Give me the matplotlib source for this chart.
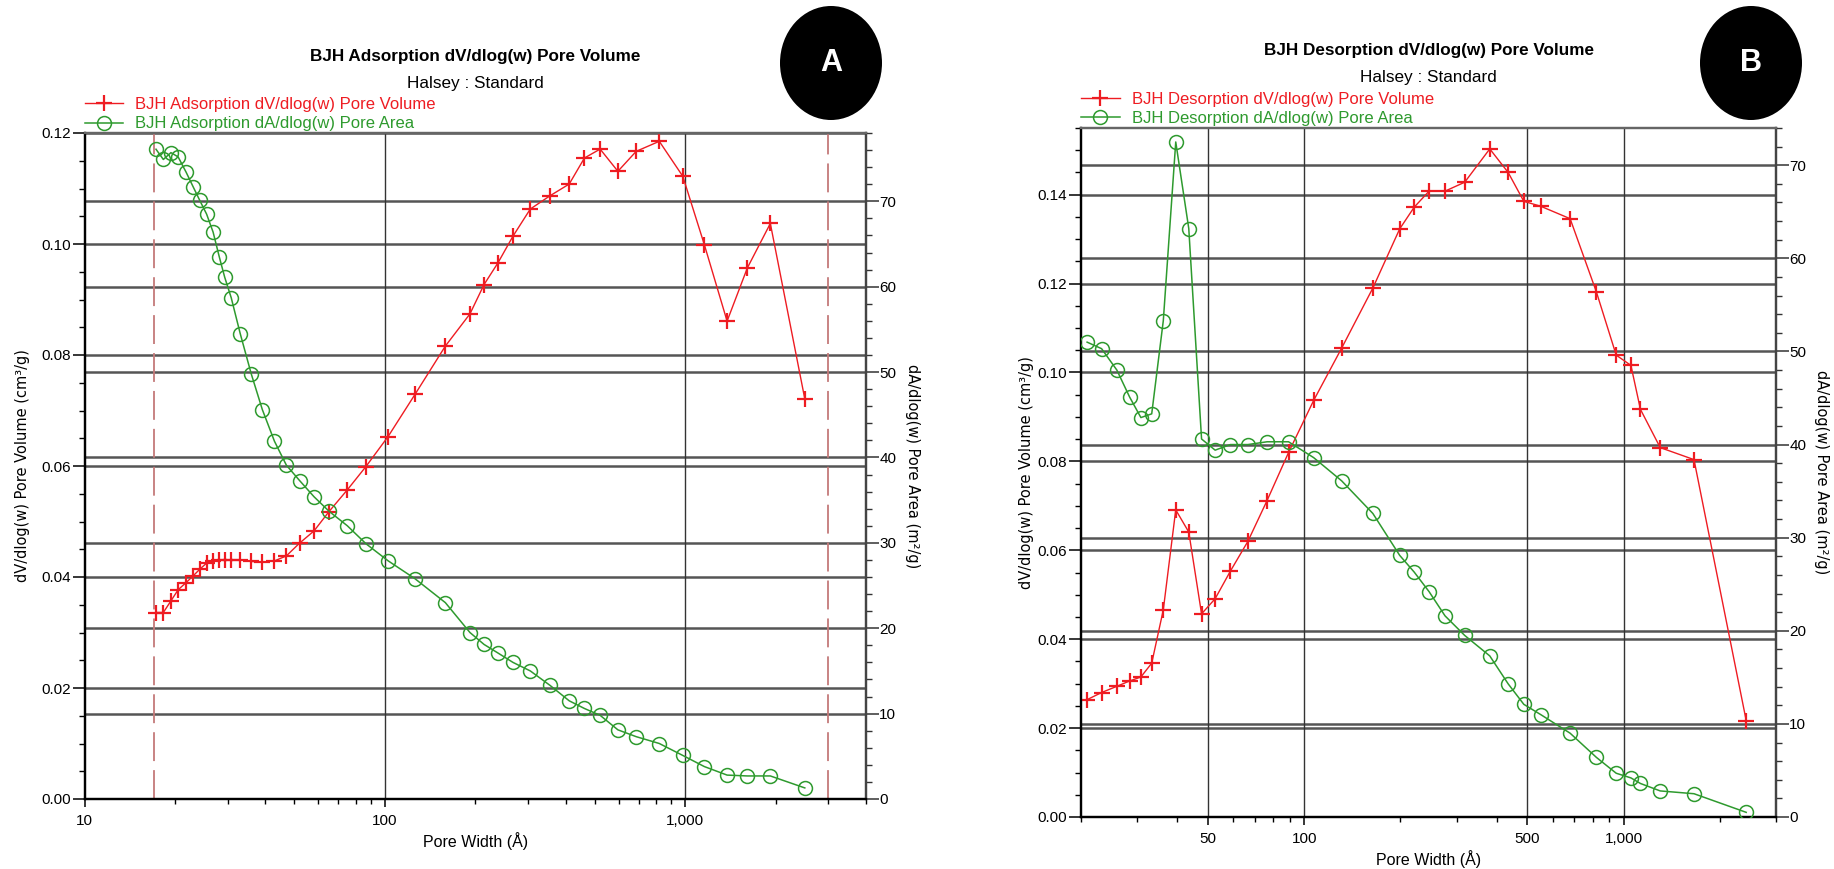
import matplotlib
matplotlib.use("Agg")
import matplotlib.pyplot as plt
from matplotlib.patches import Ellipse
from matplotlib.ticker import FixedLocator, LogLocator, FuncFormatter, MultipleLocator, NullFormatter
import numpy as np

# Panel A - adsorption
ads_width = [17.3, 18.3, 19.4, 20.5, 21.8, 23.0, 24.2, 25.5, 26.8, 28.1, 29.3, 30.8, 33.0,
             35.9, 39.1, 42.9, 47.0, 52.0, 58.1, 65.2, 75.0, 86.5, 102.5, 126, 159, 192,
             214, 238, 267, 305, 355, 411, 462, 521, 597, 687, 820, 982, 1158, 1379,
             1611, 1921, 2502]
ads_volume = [0.0336, 0.0336, 0.0357, 0.0377, 0.0390, 0.0402, 0.0414, 0.0425, 0.0429,
              0.0431, 0.0431, 0.0431, 0.0431, 0.0428, 0.0427, 0.0429, 0.0438, 0.0461,
              0.0483, 0.0518, 0.0557, 0.0599, 0.0653, 0.0729, 0.0816, 0.0874, 0.0927,
              0.0966, 0.1014, 0.1063, 0.1087, 0.1108, 0.1155, 0.1171, 0.1131, 0.1167,
              0.1185, 0.1122, 0.0999, 0.0861, 0.0957, 0.1037, 0.0721]
ads_area = [76.1, 74.9, 75.7, 75.2, 73.4, 71.7, 70.1, 68.5, 66.4, 63.5, 61.1, 58.7, 54.5,
            49.8, 45.6, 41.9, 39.1, 37.3, 35.4, 33.7, 32.0, 29.9, 27.9, 25.8, 23.0, 19.5,
            18.1, 17.1, 16.0, 15.0, 13.3, 11.5, 10.6, 9.8, 8.1, 7.3, 6.5, 5.1, 3.8, 2.8,
            2.7, 2.7, 1.3]

# Panel B - desorption
des_width = [20.9, 23.2, 25.9, 28.4, 30.8, 33.3, 36.2, 39.6, 43.5, 47.7, 52.6, 58.7, 66.6,
             76.5, 89.3, 107, 131, 164, 199, 221, 246, 276, 318, 381, 435, 487, 550, 680,
             822, 948, 1054, 1129, 1302, 1661, 2420]
des_volume = [0.0264, 0.0280, 0.0294, 0.0306, 0.0315, 0.0346, 0.0466, 0.0691, 0.0641,
              0.0457, 0.0491, 0.0553, 0.0620, 0.0712, 0.0820, 0.0937, 0.1055, 0.1190,
              0.1323, 0.1372, 0.1408, 0.1408, 0.1428, 0.1503, 0.1450, 0.1385, 0.1374,
              0.1346, 0.1181, 0.1039, 0.1016, 0.0917, 0.0831, 0.0804, 0.0217]
des_area = [51.0, 50.3, 48.0, 45.1, 42.9, 43.3, 53.3, 72.5, 63.2, 40.6, 39.4, 40.0, 40.0,
            40.3, 40.3, 38.6, 36.1, 32.6, 28.1, 26.3, 24.2, 21.6, 19.5, 17.3, 14.3, 12.1,
            11.0, 9.0, 6.4, 4.7, 4.2, 3.6, 2.8, 2.5, 0.5]

ads_xticks = [10, 100, 1000]
des_xticks = [50, 100, 500, 1000]

RED = "#ee1c22"
GREEN = "#2e9a2e"
GRID = "#555555"

W, H = 1834, 869


def px_axes(left, right, top, bottom):
    return [left / W, (H - bottom) / H, (right - left) / W, (bottom - top) / H]


def draw_panel(fig, rect, x, vol, area, xlim, ylim_l, ylim_r, xticks, vgrid,
               title, labels, ylab_x, dashed=None):
    ax = fig.add_axes(rect)
    ax2 = ax.twinx()
    ax.set_xscale("log")
    ax.set_xlim(*xlim)
    ax.set_ylim(0, ylim_l)
    ax2.set_ylim(0, ylim_r)

    # horizontal grid lines from both scales, drawn on the left axis
    for v in np.arange(0.02, ylim_l + 1e-9, 0.02):
        ax.axhline(v, color=GRID, lw=1.8, zorder=0)
    for v in np.arange(10, ylim_r, 10):
        ax.axhline(v * ylim_l / ylim_r, color=GRID, lw=1.8, zorder=0)
    for v in vgrid:
        ax.axvline(v, color="#333333", lw=1.0, zorder=0)
    if dashed:
        for v in dashed:
            ax.axvline(v, color="#c47a7a", lw=1.3, dashes=(16, 5), zorder=1)

    l1, = ax.plot(x, vol, color=RED, lw=1.0, marker="+", ms=11, mew=1.6,
                  label=labels[0], zorder=3)
    l2, = ax2.plot(x, area, color=GREEN, lw=1.1, marker="o", ms=10, mfc="none",
                   mew=1.1, label=labels[1], zorder=3)

    ax.xaxis.set_major_locator(FixedLocator(xticks))
    ax.xaxis.set_major_formatter(FuncFormatter(lambda v, p: "{:,}".format(int(round(v)))))
    ax.xaxis.set_minor_locator(LogLocator(base=10, subs=np.arange(2, 10)))
    ax.xaxis.set_minor_formatter(NullFormatter())

    ax.yaxis.set_major_locator(MultipleLocator(0.02))
    ax.yaxis.set_minor_locator(MultipleLocator(0.005))
    ax.yaxis.set_major_formatter(FuncFormatter(lambda v, p: "%.2f" % v))
    ax2.yaxis.set_major_locator(MultipleLocator(10))
    ax2.yaxis.set_minor_locator(MultipleLocator(2))

    for lab in ax.get_xticklabels() + ax.get_yticklabels() + ax2.get_yticklabels():
        lab.set_fontfamily("Liberation Sans")
    ax.tick_params(axis="y", which="major", length=9, width=1.1, pad=0.8, labelsize=11)
    ax.tick_params(axis="y", which="minor", length=4, width=1.0)
    ax.tick_params(axis="x", which="major", length=5.5, width=1.1, pad=5, labelsize=11)
    ax.tick_params(axis="x", which="minor", length=3.6, width=1.0)
    ax2.tick_params(axis="y", which="major", length=9, width=1.1, pad=0.6, labelsize=11,
                    color="#333333")
    ax2.tick_params(axis="y", which="minor", length=4, width=1.0, color="#333333")

    for a in (ax, ax2):
        a.spines["left"].set_color("black")
        a.spines["left"].set_linewidth(1.6)
        a.spines["bottom"].set_color("black")
        a.spines["bottom"].set_linewidth(1.6)
        a.spines["right"].set_color("#444444")
        a.spines["right"].set_linewidth(1.6)
        a.spines["top"].set_color("#666666")
        a.spines["top"].set_linewidth(1.6)

    ax.set_xlabel("Pore Width (Å)", fontfamily="Liberation Sans", fontsize=11.5, labelpad=3)
    ax.text(ylab_x, 0.5, "dV/dlog(w) Pore Volume (cm³/g)", transform=ax.transAxes,
            rotation=90, ha="center", va="center", fontfamily="DejaVu Sans", fontsize=10.5)
    ax.text(1 + 46 / (rect[2] * W), 0.5, "dA/dlog(w) Pore Area (m²/g)", transform=ax.transAxes,
            rotation=270, ha="center", va="center", fontfamily="DejaVu Sans", fontsize=10.5)

    top_px = H - (rect[1] + rect[3]) * H
    cx = rect[0] + rect[2] / 2
    fig.text(cx, 1 - (top_px - 77) / H, title, ha="center", va="center",
             fontfamily="Liberation Sans", fontweight="bold", fontsize=12.3)
    fig.text(cx, 1 - (top_px - 50) / H, "Halsey : Standard", ha="center", va="center",
             fontfamily="Liberation Sans", fontsize=12.3)

    ax.legend(handles=[l1, l2], loc="lower left", bbox_to_anchor=(-0.002, 1.0),
              frameon=False, borderaxespad=0.1, borderpad=0, handlelength=2.3,
              handletextpad=0.75, labelspacing=0.25, numpoints=1,
              prop=dict(family="Liberation Sans", size=12), labelcolor="linecolor")
    return ax, ax2


fig = plt.figure(figsize=(W / 100, H / 100), dpi=100)

draw_panel(fig, px_axes(84.5, 866, 133, 799), ads_width, ads_volume, ads_area,
           (10, 4000), 0.12, 78, ads_xticks, [100, 1000],
           "BJH Adsorption dV/dlog(w) Pore Volume",
           ["BJH Adsorption dV/dlog(w) Pore Volume", "BJH Adsorption dA/dlog(w) Pore Area"],
           ylab_x=-(84.5 - 23) / 781.5, dashed=[17, 3000])

draw_panel(fig, px_axes(1081, 1776, 128, 817), des_width, des_volume, des_area,
           (20, 3000), 0.155, 74, des_xticks, [50, 100, 500, 1000],
           "BJH Desorption dV/dlog(w) Pore Volume",
           ["BJH Desorption dV/dlog(w) Pore Volume", "BJH Desorption dA/dlog(w) Pore Area"],
           ylab_x=-(1081 - 1027) / 695)

for cx, letter in [(831, "A"), (1751, "B")]:
    fig.add_artist(Ellipse((cx / W, 1 - 63 / H), 102 / W, 114 / H, transform=fig.transFigure,
                           facecolor="black", edgecolor="none"))
    fig.text(cx / W, 1 - 63 / H, letter, color="white", ha="center", va="center",
             fontfamily="Liberation Sans", fontweight="bold", fontsize=22)

fig.savefig("out.png", dpi=100)
